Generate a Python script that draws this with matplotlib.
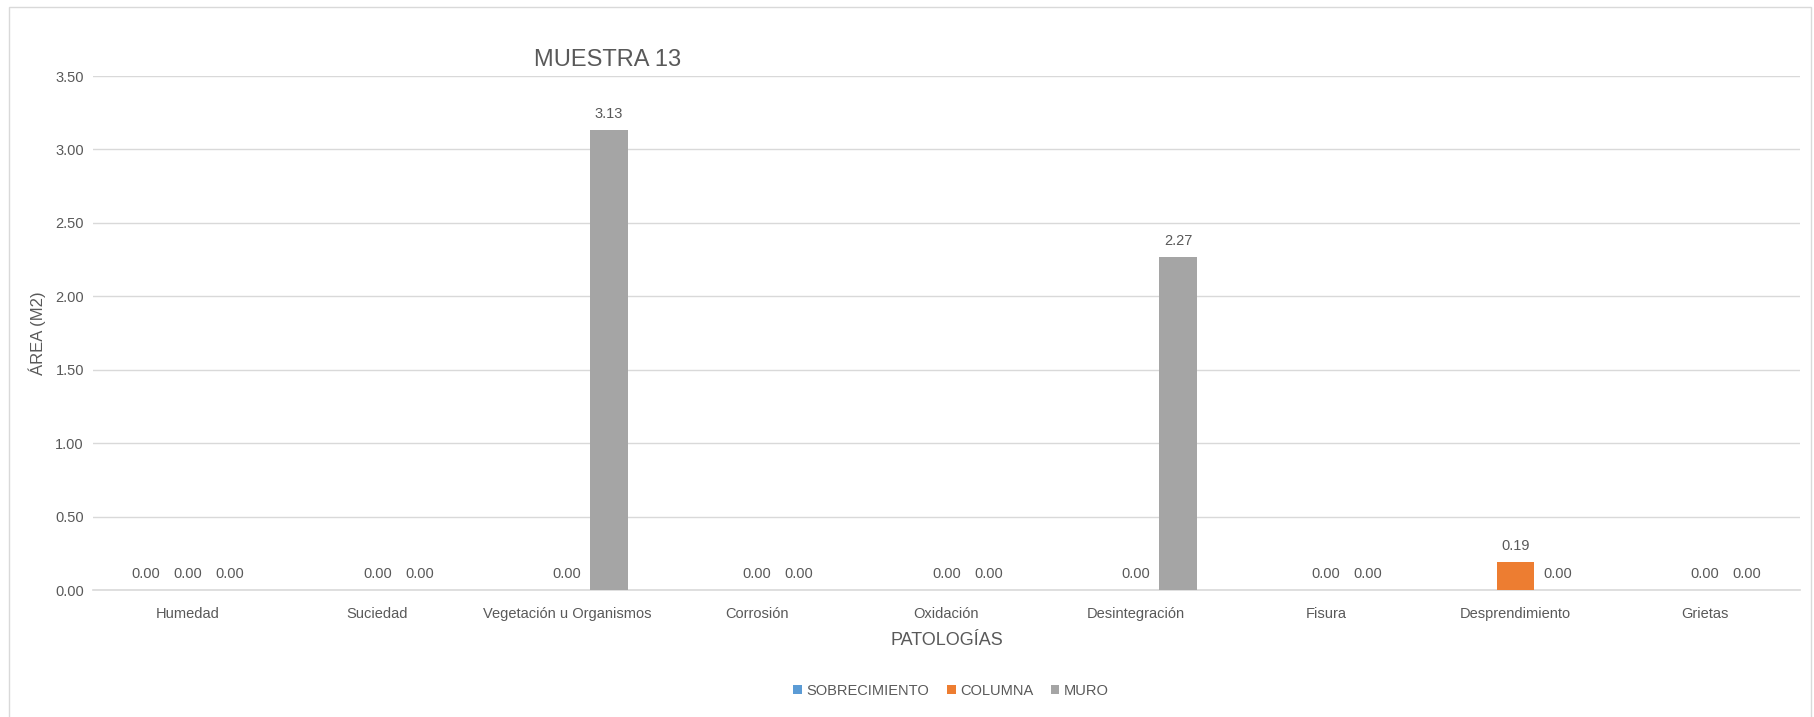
import numpy as np
import matplotlib
matplotlib.use("Agg")
import matplotlib.pyplot as plt
from matplotlib.patches import Patch, Rectangle

categories = ["Humedad", "Suciedad", "Vegetación u Organismos", "Corrosión", "Oxidación",
              "Desintegración", "Fisura", "Desprendimiento", "Grietas"]
series_names = ["SOBRECIMIENTO", "COLUMNA", "MURO"]
sobrecimiento = [0.00, np.nan, np.nan, np.nan, np.nan, np.nan, np.nan, np.nan, np.nan]
columna = [0.00, 0.00, 0.00, 0.00, 0.00, 0.00, 0.00, 0.19, 0.00]
muro = [0.00, 0.00, 3.13, 0.00, 0.00, 2.27, 0.00, 0.00, 0.00]
colors = ["#5B9BD5", "#ED7D31", "#A5A5A5"]
yticks = [0.0, 0.5, 1.0, 1.5, 2.0, 2.5, 3.0, 3.5]

plt.rcParams['font.family'] = ['Liberation Sans Narrow', 'Liberation Sans', 'DejaVu Sans']
txt = "#595959"

fig = plt.figure(figsize=(18.15, 7.17), dpi=100)
ax = fig.add_axes([93/1815, 1-590/717, (1800-93)/1815, (590-76)/717])

x = np.arange(len(categories))
slot = 0.221
bw = 0.20
for i, (vals, c) in enumerate(zip([sobrecimiento, columna, muro], colors)):
    pos = x + (i - 1) * slot
    v = np.array(vals, dtype=float)
    ax.bar(pos, np.nan_to_num(v), width=bw, color=c, zorder=3)
    for p, val in zip(pos, v):
        if not np.isnan(val):
            ax.annotate(f"{val:.2f}", (p, val), xytext=(0, 9), textcoords="offset pixels",
                        ha="center", va="bottom", fontsize=10.5, color=txt)

ax.set_xlim(-0.5, len(categories) - 0.5)
ax.set_ylim(0, 3.5)
ax.set_yticks(yticks)
ax.set_yticklabels([f"{t:.2f}" for t in yticks])
ax.set_xticks(x)
ax.set_xticklabels(categories)
ax.tick_params(axis="both", length=0, colors=txt, labelsize=10.5)
ax.tick_params(axis="x", pad=12)
ax.tick_params(axis="y", pad=6.5)
ax.grid(axis="y", color="#D9D9D9", lw=1, zorder=0)
for s in ["top", "right", "left"]:
    ax.spines[s].set_visible(False)
ax.spines["bottom"].set_color("#D9D9D9")
ax.spines["bottom"].set_linewidth(1.2)

ax.set_xlabel("PATOLOGÍAS", fontsize=13, color=txt, labelpad=8)
ax.set_ylabel("ÁREA (M2)", fontsize=12, color=txt)
ax.yaxis.set_label_coords((46 - 93) / 1707, 0.5)

fig.text(608/1815, 1-60/717, "MUESTRA 13", fontsize=17, color=txt, ha="center", va="center")

handles = [Patch(facecolor=c, edgecolor="none") for c in colors]
fig.legend(handles, series_names, loc="center", bbox_to_anchor=(951/1815, 1-691/717),
           ncol=3, frameon=False, fontsize=10.5, handlelength=0.6, handleheight=0.6,
           handletextpad=0.3, columnspacing=1.2, labelcolor=txt)

fig.patches.append(Rectangle((9/1815, -0.05), (1811-9)/1815, 1.05 - 7/717,
                             transform=fig.transFigure, fill=False, edgecolor="#D9D9D9", lw=1))

fig.savefig("out.png", dpi=100, facecolor="white")
